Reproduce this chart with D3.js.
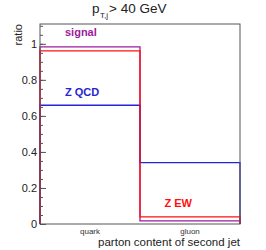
<!DOCTYPE html>
<html>
<head>
<meta charset="utf-8">
<script src="https://cdn.jsdelivr.net/npm/d3@7"></script>
<style>
  body { margin: 0; background: #fff; }
  text { font-family: "Liberation Sans", Arial, sans-serif; }
</style>
</head>
<body>
<div id="chart"></div>
<script>
// fractions per parton type of the second jet
const categories = ["quark", "gluon"];
const signal = [0.983, 0.017];
const zQCD = [0.659, 0.341];
const zEW = [0.961, 0.039];
const majorTicks = [0, 0.2, 0.4, 0.6, 0.8, 1];

const width = 266, height = 250;
const padL = 40, padR = 240, padT = 24, padB = 224;

const svg = d3.select("#chart").append("svg")
    .attr("width", width)
    .attr("height", height);

const x = d3.scaleBand().domain(categories).range([padL, padR]).paddingInner(0).paddingOuter(0);
const y = d3.scaleLinear().domain([0, 1.11]).range([padB, padT]);

// histogram outline as a step path
function stepPath(vals) {
  let p = d3.path();
  p.moveTo(x(categories[0]), y(0));
  vals.forEach((v, i) => {
    p.lineTo(x(categories[i]), y(v));
    p.lineTo(x(categories[i]) + x.bandwidth(), y(v));
  });
  p.lineTo(padR, y(0));
  return p.toString();
}

const series = [
  {vals: signal, color: "#9b1b9b"},
  {vals: zQCD, color: "#2424d8"},
  {vals: zEW, color: "#ff1010"}
];
series.forEach(s => {
  svg.append("path")
    .attr("d", stepPath(s.vals))
    .attr("fill", "none")
    .attr("stroke", s.color)
    .attr("stroke-width", 1.3);
});

// frame
svg.append("rect")
  .attr("x", padL).attr("y", padT)
  .attr("width", padR - padL).attr("height", padB - padT)
  .attr("fill", "none").attr("stroke", "#555").attr("stroke-width", 1);

// minor ticks
const minor = d3.range(0, 1.101, 0.05);
svg.append("g")
  .attr("transform", "translate(" + padL + ",0)")
  .call(d3.axisLeft(y).tickValues(minor).tickSize(-3).tickFormat(""))
  .call(g => g.select(".domain").remove())
  .selectAll("line").attr("stroke", "#555");

// major ticks and labels
svg.append("g")
  .attr("transform", "translate(" + padL + ",0)")
  .call(d3.axisLeft(y).tickValues(majorTicks).tickSize(-6).tickPadding(3).tickFormat(d3.format("~g")))
  .call(g => g.select(".domain").remove())
  .call(g => g.selectAll("line").attr("stroke", "#555"))
  .call(g => g.selectAll("text").attr("font-size", "11px").attr("fill", "#222")
      .style("font-family", "'Liberation Sans', Arial, sans-serif"));

// category labels
svg.append("g")
  .attr("transform", "translate(0," + padB + ")")
  .call(d3.axisBottom(x).tickSize(0).tickPadding(4))
  .call(g => g.select(".domain").remove())
  .call(g => g.selectAll("text").attr("font-size", "8px").attr("fill", "#333")
      .style("font-family", "'Liberation Sans', Arial, sans-serif"));

// axis titles
svg.append("text")
  .attr("x", padR).attr("y", 246)
  .attr("text-anchor", "end")
  .attr("font-size", "11.5px").attr("fill", "#222")
  .text("parton content of second jet");

svg.append("text")
  .attr("transform", "translate(22," + padT + ") rotate(-90)")
  .attr("text-anchor", "end")
  .attr("font-size", "11px").attr("fill", "#222")
  .text("ratio");

// title
const title = svg.append("text")
  .attr("x", 92).attr("y", 13)
  .attr("font-size", "13.5px").attr("fill", "#222");
title.append("tspan").text("p");
title.append("tspan").attr("font-size", "8px").attr("dy", 5).attr("dx", 0.5).text("T,j");
title.append("tspan").attr("dy", -5).attr("dx", 1).text("> 40 GeV");

// series labels
const labels = [
  {t: "signal", x: 65, y: 36, c: "#9b1b9b"},
  {t: "Z QCD", x: 65, y: 95.5, c: "#2424d8"},
  {t: "Z EW", x: 164.5, y: 207, c: "#ff1010"}
];
labels.forEach(l => {
  svg.append("text")
    .attr("x", l.x).attr("y", l.y)
    .attr("font-size", "11px").attr("font-weight", "bold")
    .attr("fill", l.c)
    .text(l.t);
});
</script>
</body>
</html>
